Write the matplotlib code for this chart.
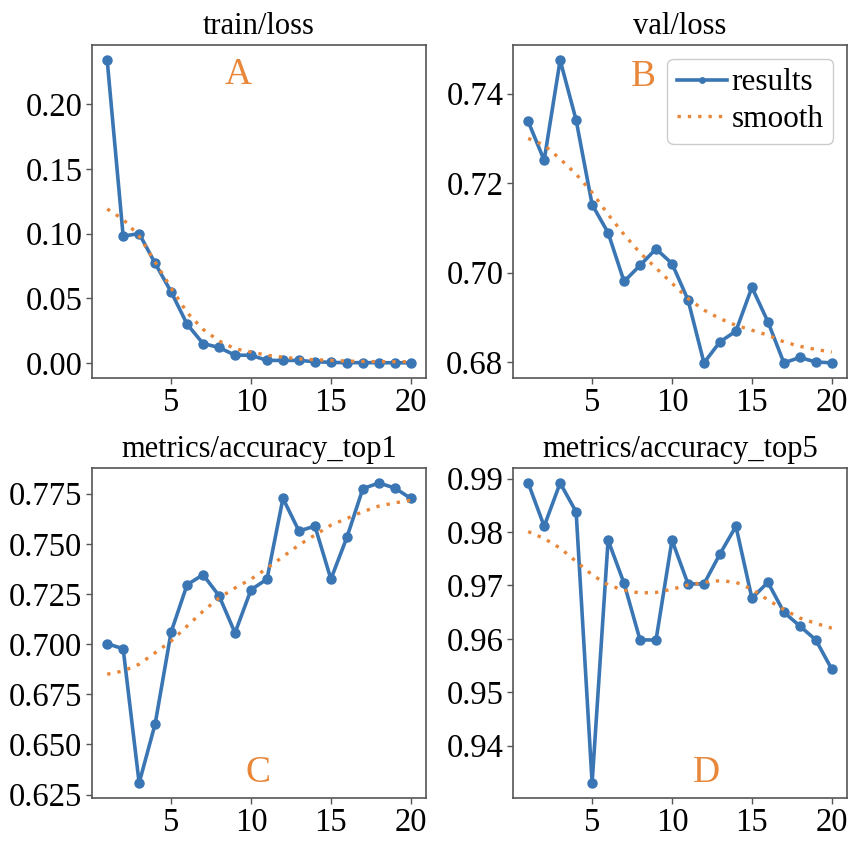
import matplotlib
matplotlib.use("Agg")
import matplotlib.pyplot as plt

plt.rcParams['font.family'] = ['Liberation Serif', 'DejaVu Serif']
plt.rcParams['mathtext.fontset'] = 'stix'

epochs = list(range(1, 21))

train_loss = [0.234, 0.098, 0.100, 0.077, 0.055, 0.030, 0.015, 0.012, 0.006, 0.006,
              0.002, 0.002, 0.002, 0.001, 0.0005, 0.0002, 0.0003, 0.0002, 0.0002, 0.0001]
train_loss_smooth = [0.119, 0.111, 0.098, 0.078, 0.058, 0.039, 0.026, 0.017, 0.011, 0.0085,
                     0.006, 0.0045, 0.0032, 0.0025, 0.002, 0.0015, 0.0012, 0.001, 0.001, 0.001]

val_loss = [0.7338, 0.7251, 0.7475, 0.7341, 0.7152, 0.7089, 0.6980, 0.7016, 0.7053, 0.7020,
            0.6939, 0.6798, 0.6845, 0.6869, 0.6967, 0.6890, 0.6798, 0.6810, 0.6800, 0.6798]
val_loss_smooth = [0.7300, 0.7285, 0.7254, 0.7220, 0.7179, 0.7130, 0.7085, 0.7044, 0.7010, 0.6976,
                   0.6942, 0.6916, 0.6897, 0.6882, 0.6871, 0.6860, 0.6845, 0.6835, 0.6828, 0.6822]

top1 = [0.7002, 0.6977, 0.6308, 0.6602, 0.7060, 0.7296, 0.7346, 0.7241, 0.7056, 0.7271,
        0.7324, 0.7726, 0.7564, 0.7588, 0.7324, 0.7532, 0.7775, 0.7803, 0.7778, 0.7726]
top1_smooth = [0.6850, 0.6866, 0.6900, 0.6957, 0.7015, 0.7090, 0.7164, 0.7230, 0.7280, 0.7324,
               0.7378, 0.7436, 0.7494, 0.7544, 0.7593, 0.7626, 0.7660, 0.7688, 0.7704, 0.7717]

top5 = [0.9892, 0.9811, 0.9892, 0.9838, 0.9330, 0.9785, 0.9704, 0.9598, 0.9598, 0.9785,
        0.9703, 0.9703, 0.9759, 0.9811, 0.9676, 0.9706, 0.9650, 0.9624, 0.9598, 0.9543]
top5_smooth = [0.9801, 0.9788, 0.9770, 0.9745, 0.9720, 0.9701, 0.9691, 0.9686, 0.9687, 0.9693,
               0.9701, 0.9706, 0.9709, 0.9706, 0.9693, 0.9673, 0.9655, 0.9639, 0.9629, 0.9620]

titles = ['train/loss', 'val/loss', 'metrics/accuracy_top1', 'metrics/accuracy_top5']
letters = ['A', 'B', 'C', 'D']
series = [(train_loss, train_loss_smooth), (val_loss, val_loss_smooth),
          (top1, top1_smooth), (top5, top5_smooth)]

BLUE = '#3a76b4'
ORANGE = '#e8873a'

fig = plt.figure(figsize=(8.54, 8.41), dpi=100)
W, H = 854, 841
boxes = [(92, 45, 426, 378), (513, 45, 847, 378), (92, 468, 426, 798), (513, 468, 847, 798)]
letter_pos = [(0.437, 0.91), (0.39, 0.905), (0.497, 0.076), (0.578, 0.076)]

for i, (l, t, r, b) in enumerate(boxes):
    ax = fig.add_axes([l / W, 1 - b / H, (r - l) / W, (b - t) / H])
    y, ys = series[i]
    ax.plot(epochs, y, '-o', color=BLUE, lw=2.6, ms=6.5, label='results')
    ax.plot(epochs, ys, linestyle=(0, (1, 2.1)), color=ORANGE, lw=2.4, label='smooth')
    ax.set_title(titles[i], fontsize=22, pad=8)
    ax.set_xticks([5, 10, 15, 20])
    ax.tick_params(labelsize=23.5, length=4, width=1, color='#555555', pad=3)
    for s in ax.spines.values():
        s.set_color('#555555')
        s.set_linewidth(1.2)
    ax.text(letter_pos[i][0], letter_pos[i][1], letters[i], transform=ax.transAxes,
            color=ORANGE, fontsize=27, ha='center', va='center')
    if i == 0:
        ax.set_yticks([0.0, 0.05, 0.10, 0.15, 0.20])
        ax.yaxis.set_major_formatter(matplotlib.ticker.FormatStrFormatter('%.2f'))
    elif i == 1:
        ax.set_yticks([0.68, 0.70, 0.72, 0.74])
        ax.yaxis.set_major_formatter(matplotlib.ticker.FormatStrFormatter('%.2f'))
        ax.legend(loc='upper right', fontsize=22.5, markerscale=0.6, handlelength=1.6,
                  handletextpad=0.15, borderpad=0.3, labelspacing=0.25,
                  borderaxespad=0.45, edgecolor='#cccccc', framealpha=1.0)
    elif i == 2:
        ax.set_yticks([0.625, 0.650, 0.675, 0.700, 0.725, 0.750, 0.775])
        ax.yaxis.set_major_formatter(matplotlib.ticker.FormatStrFormatter('%.3f'))
    else:
        ax.set_yticks([0.94, 0.95, 0.96, 0.97, 0.98, 0.99])
        ax.yaxis.set_major_formatter(matplotlib.ticker.FormatStrFormatter('%.2f'))

fig.savefig('out.png', dpi=100)
